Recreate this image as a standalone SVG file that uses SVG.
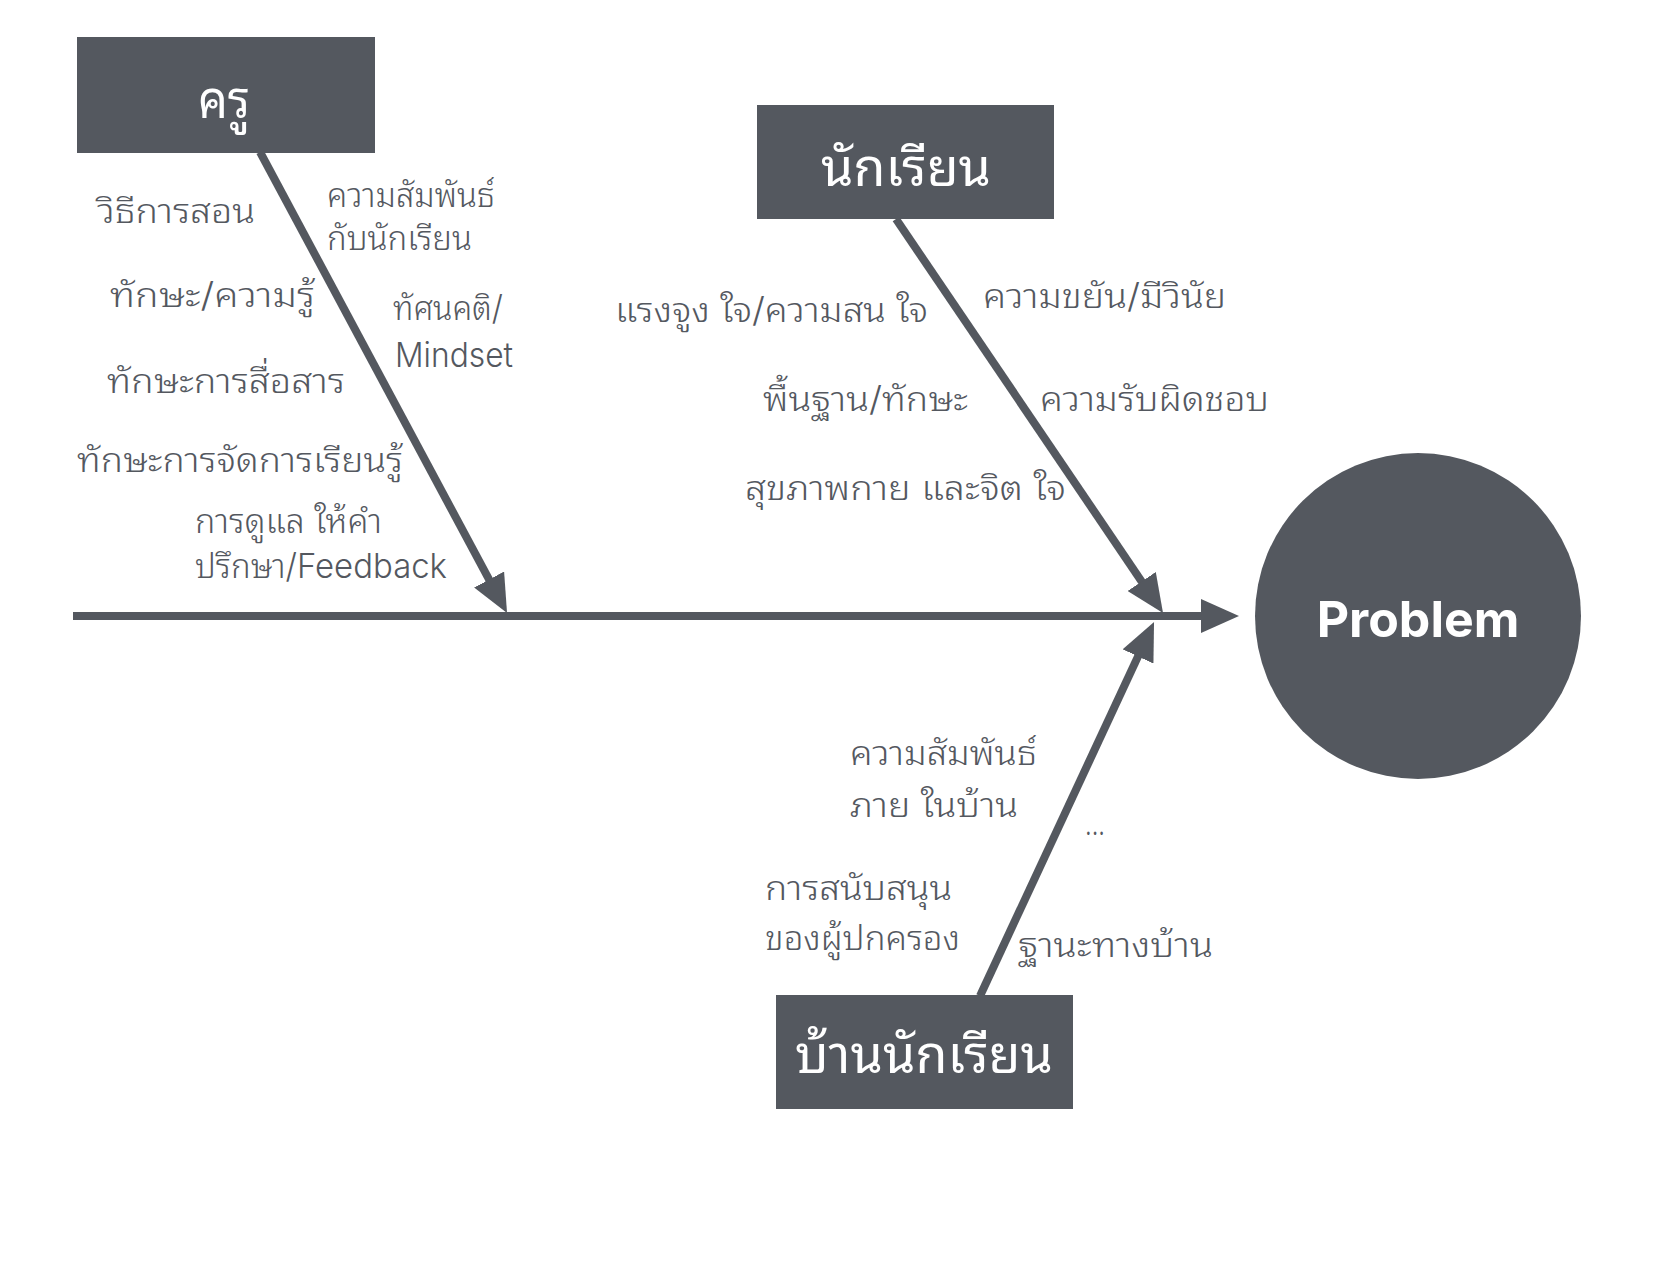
<svg xmlns="http://www.w3.org/2000/svg" width="1668" height="1288" viewBox="0 0 1668 1288">
<style>
.box{fill:#54585f}
.boxt{fill:#ffffff;font-family:"Noto Sans Thai Looped","Loma","Garuda","Waree","Tlwg Typo","Noto Sans Thai","Noto Sans",sans-serif;font-size:52px}
.lbl{fill:#54585f;font-family:"Inter","Noto Sans Thai Looped","Loma","Garuda","Waree","Noto Sans Thai","Noto Sans",sans-serif;font-size:34px;font-weight:300}
.line{stroke:#54585f;stroke-width:8;fill:none}
.prob{fill:#ffffff;font-family:"Inter","Liberation Sans",sans-serif;font-size:50px;font-weight:700}
</style>
<defs>
<marker id="ah" viewBox="0 0 38 34" refX="18" refY="17" markerWidth="38" markerHeight="34" markerUnits="userSpaceOnUse" orient="auto">
<path d="M0,0 L38,17 L0,34 z" fill="#54585f"/>
</marker>
</defs>
<rect width="1668" height="1288" fill="#ffffff"/>
<g id="connectors">
<line class="line" x1="73" y1="616" x2="1219" y2="616" marker-end="url(#ah)"/>
<line class="line" x1="260" y1="152" x2="497.6" y2="595.4" marker-end="url(#ah)"/>
<line class="line" x1="896" y1="219" x2="1151.8" y2="596.4" marker-end="url(#ah)"/>
<line class="line" x1="980" y1="996" x2="1145.6" y2="640.1" marker-end="url(#ah)"/>
</g>
<g id="node-teacher">
<rect class="box" x="77" y="37" width="298" height="116"/>
<text class="boxt" x="198" y="118" textLength="52" lengthAdjust="spacingAndGlyphs">ครู</text>
</g>
<g id="node-student">
<rect class="box" x="757" y="105" width="297" height="114"/>
<text class="boxt" x="821" y="186" textLength="170" lengthAdjust="spacingAndGlyphs">นักเรียน</text>
</g>
<g id="node-home">
<rect class="box" x="776" y="995" width="297" height="114"/>
<text class="boxt" x="795" y="1073" textLength="258" lengthAdjust="spacingAndGlyphs">บ้านนักเรียน</text>
</g>
<g id="node-problem">
<circle cx="1418" cy="616" r="163" fill="#54585f"/>
<text class="prob" x="1418" y="637" text-anchor="middle">Problem</text>
</g>
<g id="labels-teacher">
<text class="lbl" x="97" y="223" textLength="158" lengthAdjust="spacingAndGlyphs">วิธีการสอน</text>
<text class="lbl" x="327" y="207" textLength="168" lengthAdjust="spacingAndGlyphs">ความสัมพันธ์</text>
<text class="lbl" x="327" y="250" textLength="145" lengthAdjust="spacingAndGlyphs">กับนักเรียน</text>
<text class="lbl" x="110" y="307" textLength="205" lengthAdjust="spacingAndGlyphs">ทักษะ/ความรู้</text>
<text class="lbl" x="393" y="320" textLength="110" lengthAdjust="spacingAndGlyphs">ทัศนคติ/</text>
<text class="lbl" x="395" y="367" textLength="118" lengthAdjust="spacingAndGlyphs">Mindset</text>
<text class="lbl" x="107" y="393" textLength="238" lengthAdjust="spacingAndGlyphs">ทักษะการสื่อสาร</text>
<text class="lbl" x="77" y="472" textLength="326" lengthAdjust="spacingAndGlyphs">ทักษะการจัดการเรียนรู้</text>
<text class="lbl" x="195" y="533" textLength="187" lengthAdjust="spacingAndGlyphs">การดูแล ให้คำ</text>
<text class="lbl" x="195" y="578" textLength="252" lengthAdjust="spacingAndGlyphs">ปรึกษา/Feedback</text>
</g>
<g id="labels-student">
<text class="lbl" x="615" y="322" textLength="313" lengthAdjust="spacingAndGlyphs">แรงจูง ใจ/ความสน ใจ</text>
<text class="lbl" x="983" y="308" textLength="243" lengthAdjust="spacingAndGlyphs">ความขยัน/มีวินัย</text>
<text class="lbl" x="763" y="411" textLength="205" lengthAdjust="spacingAndGlyphs">พื้นฐาน/ทักษะ</text>
<text class="lbl" x="1040" y="411" textLength="229" lengthAdjust="spacingAndGlyphs">ความรับผิดชอบ</text>
<text class="lbl" x="745" y="500" textLength="321" lengthAdjust="spacingAndGlyphs">สุขภาพกาย และจิต ใจ</text>
</g>
<g id="labels-home">
<text class="lbl" x="850" y="765" textLength="187" lengthAdjust="spacingAndGlyphs">ความสัมพันธ์</text>
<text class="lbl" x="850" y="817" textLength="168" lengthAdjust="spacingAndGlyphs">ภาย ในบ้าน</text>
<text class="lbl" x="1085" y="835" textLength="20" lengthAdjust="spacingAndGlyphs">...</text>
<text class="lbl" x="765" y="900" textLength="187" lengthAdjust="spacingAndGlyphs">การสนับสนุน</text>
<text class="lbl" x="765" y="950" textLength="195" lengthAdjust="spacingAndGlyphs">ของผู้ปกครอง</text>
<text class="lbl" x="1018" y="957" textLength="195" lengthAdjust="spacingAndGlyphs">ฐานะทางบ้าน</text>
</g>
</svg>
